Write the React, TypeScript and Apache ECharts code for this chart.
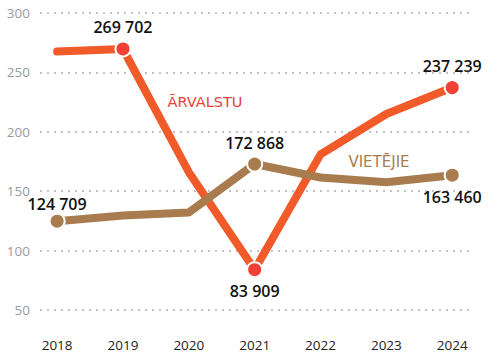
import React, { useEffect, useRef } from "react";
import * as echarts from "echarts";

const years = [2018, 2019, 2020, 2021, 2022, 2023, 2024];
const arvalstu = [267.5, 269.702, 166, 83.909, 181, 215, 237.239];
const vietejie = [124.709, 129.5, 132, 172.868, 161.5, 157.5, 163.46];
const arvalstuMarked = [false, true, false, true, false, false, true];
const vietejieMarked = [true, false, false, true, false, false, true];
const arvalstuLabelPos = ["", "top", "", "bottom", "", "", "top"];
const vietejieLabelPos = ["top", "", "", "top", "", "", "bottom"];
const yTicks = [50, 100, 150, 200, 250, 300];

const fmt = (v: number) => {
  const n = Math.round(v * 1000);
  return String(n).replace(/\B(?=(\d{3})+(?!\d))/g, " ");
};

const RED_LINE = "#f15a29";
const RED_DOT = "#ef4136";
const BROWN = "#a87c4f";
const FONT = "'Open Sans', 'Noto Sans', sans-serif";
const SERIES_FONT = "'DejaVu Sans', sans-serif";

function buildData(vals: number[], marked: boolean[], pos: string[], dot: string, distances: number[]) {
  return vals.map((v, i) => ({
    value: [years[i], v],
    symbol: marked[i] ? "circle" : "none",
    symbolSize: 15,
    itemStyle: { color: dot, borderColor: "#fff", borderWidth: 2 },
    label: {
      show: pos[i] !== "",
      position: (pos[i] || "top") as any,
      distance: distances[i],
      formatter: () => fmt(v),
      color: "#111",
      fontFamily: FONT,
      fontWeight: 600,
      fontSize: 16,
    },
  }));
}

export default function App() {
  const ref = useRef<HTMLDivElement>(null);
  useEffect(() => {
    if (!ref.current) return;
    const chart = echarts.init(ref.current, undefined, { renderer: "svg" });
    chart.setOption({
      animation: false,
      grid: { left: 40, right: 30, top: 13, bottom: 47 },
      xAxis: {
        type: "value",
        min: 2017.74,
        max: 2024.27,
        axisLine: { show: false },
        axisTick: { show: false },
        splitLine: { show: false },
        axisLabel: {
          customValues: years,
          margin: 28,
          color: "#222",
          fontSize: 13.5,
          fontFamily: FONT,
          formatter: (v: number) => String(v),
        },
      },
      yAxis: {
        type: "value",
        min: 50,
        max: 300,
        interval: 50,
        axisLine: { show: false },
        axisTick: { show: false },
        axisLabel: {
          margin: 10,
          color: "#9a9a9a",
          fontSize: 13.5,
          fontFamily: FONT,
          formatter: (v: number) => (yTicks.includes(v) ? String(v) : ""),
        },
        splitLine: {
          lineStyle: { color: "#b0b0b0", width: 1.5, type: [2, 5] },
        },
      },
      series: [
        {
          type: "line",
          data: buildData(arvalstu, arvalstuMarked, arvalstuLabelPos, RED_DOT, [5, 5, 5, 5, 5, 5, 5]),
          lineStyle: { color: RED_LINE, width: 8, cap: "round", join: "round" },
          itemStyle: { color: RED_DOT },
          z: 2,
        },
        {
          type: "line",
          data: buildData(vietejie, vietejieMarked, vietejieLabelPos, BROWN, [1, 5, 5, 5, 5, 5, 5]),
          lineStyle: { color: BROWN, width: 8, cap: "round", join: "round" },
          itemStyle: { color: BROWN },
          z: 3,
        },
      ],
      graphic: [
        {
          type: "text",
          x: 205,
          y: 102,
          style: {
            text: "ĀRVALSTU",
            fill: "#e8413a",
            font: `normal 14.5px ${SERIES_FONT}`,
            align: "center",
            verticalAlign: "middle",
          },
        },
        {
          type: "text",
          x: 379,
          y: 162,
          style: {
            text: "VIETĒJIE",
            fill: BROWN,
            font: `normal 15px ${SERIES_FONT}`,
            align: "center",
            verticalAlign: "middle",
          },
        },
      ],
    });
    return () => chart.dispose();
  }, []);
  return <div ref={ref} style={{ width: 500, height: 357, position: "absolute", left: 0, top: 0 }} />;
}
